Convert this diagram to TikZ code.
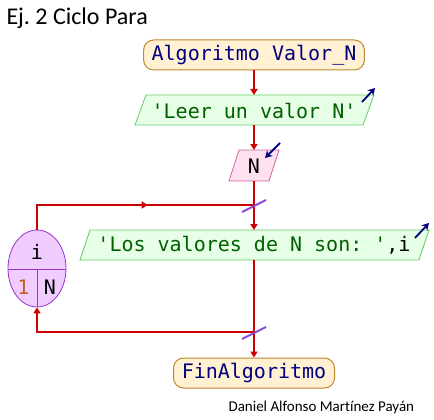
\documentclass[tikz,border=0pt]{standalone}
\usepackage{fontspec}
\setmainfont[Ligatures=NoCommon]{Carlito}
\setmonofont{DejaVu Sans Mono}
\usetikzlibrary{arrows.meta,shapes.geometric,decorations.markings}
\frenchspacing
\definecolor{flowred}{HTML}{CC0000}
\definecolor{termfill}{HTML}{FFF1D2}
\definecolor{termdraw}{HTML}{C08830}
\definecolor{navy}{HTML}{000080}
\definecolor{grfill}{HTML}{E6FFE6}
\definecolor{grdraw}{HTML}{66CC66}
\definecolor{grtext}{HTML}{006000}
\definecolor{pkfill}{HTML}{FFE0F0}
\definecolor{pkdraw}{HTML}{CC6699}
\definecolor{pufill}{HTML}{F0CCFF}
\definecolor{pudraw}{HTML}{9933CC}
\definecolor{slashcol}{HTML}{8844DD}
\definecolor{onecol}{HTML}{C06020}
\tikzset{
  term/.style={draw=termdraw,fill=termfill,line width=1pt,rounded corners=10pt,
    minimum height=30pt,inner xsep=8pt,font=\ttfamily\fontsize{20}{20}\selectfont,text=navy},
  paratext/.style={inner sep=0pt,font=\ttfamily\fontsize{20}{20}\selectfont},
  grpoly/.style={draw=grdraw,fill=grfill,line width=0.8pt},
  pkpoly/.style={draw=pkdraw,fill=pkfill,line width=0.8pt},
  flow/.style={draw=flowred,line width=1.6pt},
  tip/.style={-{Triangle[width=7pt,length=6pt]}},
  slash/.style={draw=slashcol,line width=1.8pt},
  ioarrow/.style={draw=navy,line width=1.8pt,-{Stealth[width=8pt,length=7pt]}},
  midarrow/.style={postaction={decorate},decoration={markings,
    mark=at position #1 with {\arrow{Triangle[width=7pt,length=6pt]}}}}
}
\begin{document}
\begin{tikzpicture}[x=1pt,y=-1pt]
\useasboundingbox (0,0) rectangle (434,420);
\fill[white] (0,0) rectangle (434,420);

\node[anchor=west,font=\fontsize{24}{24}\selectfont] (title) at (3,18) {Ej. 2 Ciclo Para};

% start terminal
\node[term,minimum width=220pt] (start) at (254,55) {Algoritmo Valor\_N};

% Leer parallelogram
\path[grpoly] (146,95) -- (374,95) -- (363,125) -- (135,125) -- cycle;
\coordinate (leerN) at (254,95);
\coordinate (leerS) at (254,125);
\node[paratext,text=grtext] (leer) at (254,111) {'Leer un valor N'};
\coordinate (ia1) at (362,102); \coordinate (ia2) at (375,88);
\draw[ioarrow] (ia1) -- (ia2);

% N input parallelogram
\path[pkpoly] (239,150) -- (279,150) -- (269,181) -- (229,181) -- cycle;
\coordinate (nN) at (254,150);
\coordinate (nS) at (254,181);
\node[paratext] (nnode) at (254,166) {N};
\coordinate (ib1) at (280,143); \coordinate (ib2) at (265,158);
\draw[ioarrow] (ib1) -- (ib2);

% Los valores parallelogram
\path[grpoly] (90,230) -- (429,230) -- (419,260) -- (80,260) -- cycle;
\coordinate (losN) at (254,230);
\coordinate (losS) at (254,260);
\node[paratext] (los) at (254,245.5) {\textcolor{grtext}{'Los valores de N son: '},i};
\coordinate (ic1) at (415,238); \coordinate (ic2) at (429,223);
\draw[ioarrow] (ic1) -- (ic2);

% loop node
\node[ellipse,draw=pudraw,fill=pufill,line width=0.8pt,minimum width=58pt,minimum height=77pt,inner sep=0pt] (loop) at (37,268.5) {};
\coordinate (lw) at (8,269); \coordinate (le) at (66,269);
\coordinate (lm) at (37,269);
\draw[pudraw,line width=0.8pt] (lw) -- (le);
\draw[pudraw,line width=0.8pt] (lm) -- (loop.south);
\node[paratext] (lvar) at (37,252) {i};
\node[paratext,text=onecol] (lstart) at (23.5,287) {1};
\node[paratext] (lend) at (50,287) {N};

% end terminal
\node[term,minimum width=161pt] (fin) at (254,373) {FinAlgoritmo};

% junctions
\coordinate (j1) at (254,205);
\coordinate (j2) at (254,332);

% connectors
\draw[flow,tip] (start.south) -- (leerN);
\draw[flow,tip] (leerS) -- (nN);
\draw[flow,tip] (nS) -- (losN);
\draw[flow,tip] (losS) -- (fin.north);
\draw[flow,midarrow=0.56] (loop.north) |- (j1);
\draw[flow,tip] (j2) -| (loop.south);

% slashes
\draw[slash] ([shift={(-12,7)}]j1) -- ([shift={(12,-5)}]j1);
\draw[slash] ([shift={(-12,7)}]j2) -- ([shift={(12,-5)}]j2);

\node[anchor=west,font=\fontsize{15}{15}\selectfont] (author) at (225,407) {Daniel Alfonso Martínez Payán};
\end{tikzpicture}
\end{document}
